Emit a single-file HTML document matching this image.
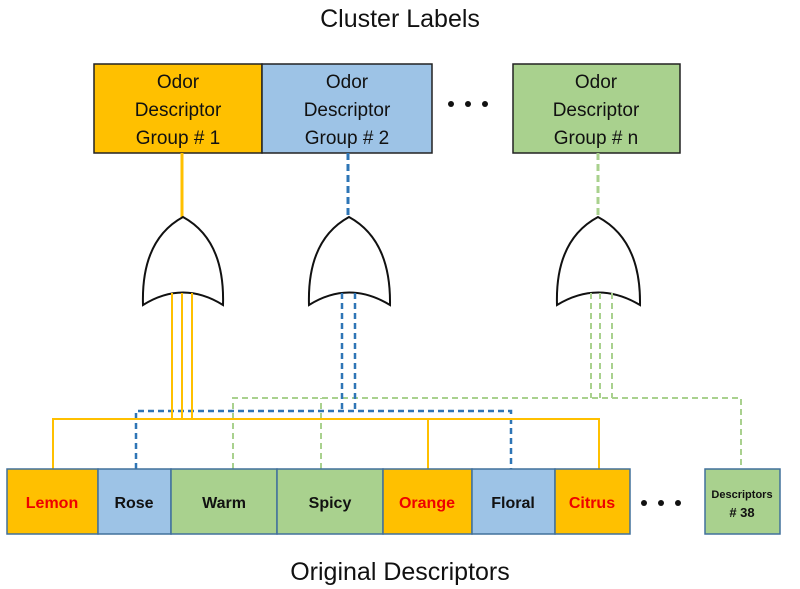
<!DOCTYPE html>
<html><head><meta charset="utf-8"><style>
body{margin:0;background:#fff;width:800px;height:589px;overflow:hidden;font-family:"Liberation Sans",sans-serif}
svg{position:absolute;left:0;top:0}
</style></head><body>
<svg width="800" height="589" viewBox="0 0 800 589" xmlns="http://www.w3.org/2000/svg" font-family="Liberation Sans, sans-serif">
<text x="400" y="27" font-size="25" text-anchor="middle" fill="#111">Cluster Labels</text>
<text x="400" y="580" font-size="25" text-anchor="middle" fill="#111">Original Descriptors</text>
<!-- top boxes -->
<rect x="94" y="64" width="168" height="89" fill="#FFC000" stroke="#222" stroke-width="1.5"/>
<rect x="262" y="64" width="170" height="89" fill="#9DC3E6" stroke="#222" stroke-width="1.5"/>
<rect x="513" y="64" width="167" height="89" fill="#A9D18E" stroke="#222" stroke-width="1.5"/>
<g font-size="19" text-anchor="middle" fill="#111">
<text x="178" y="88">Odor</text><text x="178" y="116">Descriptor</text><text x="178" y="144">Group # 1</text>
<text x="347" y="88">Odor</text><text x="347" y="116">Descriptor</text><text x="347" y="144">Group # 2</text>
<text x="596" y="88">Odor</text><text x="596" y="116">Descriptor</text><text x="596" y="144">Group # n</text>
</g>
<g fill="#111"><circle cx="451" cy="104" r="3"/><circle cx="468" cy="104" r="3"/><circle cx="485" cy="104" r="3"/>
<circle cx="644" cy="503" r="3"/><circle cx="661" cy="503" r="3"/><circle cx="678" cy="503" r="3"/></g>
<!-- top connectors -->
<line x1="182" y1="153" x2="182" y2="217" stroke="#FFC000" stroke-width="3"/>
<line x1="348" y1="153" x2="348" y2="217" stroke="#2E75B6" stroke-width="3" stroke-dasharray="7,4"/>
<line x1="598" y1="153" x2="598" y2="217" stroke="#A9D18E" stroke-width="3" stroke-dasharray="7,4"/>
<!-- gates -->
<g fill="#fff" stroke="#111" stroke-width="2">
<path d="M143,305 Q141,240 183,217 Q225,240 223,305 Q183,280 143,305 Z"/>
<path d="M309,305 Q307,240 349,217 Q391,240 390,305 Q349,280 309,305 Z"/>
<path d="M557,305 Q555,240 598,217 Q641,240 640,305 Q598,280 557,305 Z"/>
</g>
<!-- green wires -->
<g fill="none" stroke="#A9D18E" stroke-width="2" stroke-dasharray="6,4">
<path d="M233,469 V398 H741 V469"/>
<path d="M321,469 V398"/>
<path d="M591,293 V398 M600,293 V398 M612,293 V398"/>
</g>
<!-- blue wires -->
<g fill="none" stroke="#2E75B6" stroke-width="2.5" stroke-dasharray="6,4">
<path d="M136,469 V411 H511 V469"/>
<path d="M342,293 V411 M355,293 V411"/>
</g>
<!-- yellow wires -->
<g fill="none" stroke="#FFC000" stroke-width="2">
<path d="M53,469 V419 H599 V469"/>
<path d="M428,419 V469"/>
<path d="M172,293 V419 M182,293 V419 M192,293 V419"/>
</g>
<!-- bottom boxes -->
<g stroke="#41719C" stroke-width="1.5">
<rect x="7" y="469" width="91" height="65" fill="#FFC000"/>
<rect x="98" y="469" width="73" height="65" fill="#9DC3E6"/>
<rect x="171" y="469" width="106" height="65" fill="#A9D18E"/>
<rect x="277" y="469" width="106" height="65" fill="#A9D18E"/>
<rect x="383" y="469" width="89" height="65" fill="#FFC000"/>
<rect x="472" y="469" width="83" height="65" fill="#9DC3E6"/>
<rect x="555" y="469" width="75" height="65" fill="#FFC000"/>
<rect x="705" y="469" width="75" height="65" fill="#A9D18E"/>
</g>
<g font-size="16" font-weight="bold" text-anchor="middle">
<text x="52" y="508" fill="#E00">Lemon</text>
<text x="134" y="508" fill="#111">Rose</text>
<text x="224" y="508" fill="#111">Warm</text>
<text x="330" y="508" fill="#111">Spicy</text>
<text x="427" y="508" fill="#E00">Orange</text>
<text x="513" y="508" fill="#111">Floral</text>
<text x="592" y="508" fill="#E00">Citrus</text>
<text x="742" y="498" font-size="11" fill="#111">Descriptors</text>
<text x="742" y="517" font-size="13" fill="#111"># 38</text>
</g>
</svg>
</body></html>
